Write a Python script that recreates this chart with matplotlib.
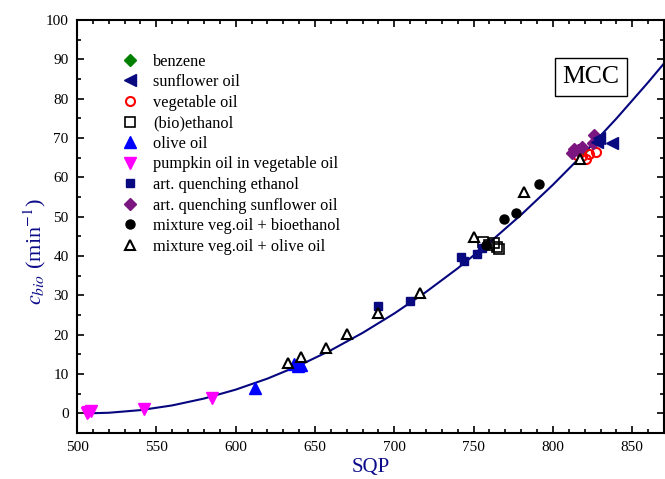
import numpy as np
import matplotlib
matplotlib.use("Agg")
import matplotlib.pyplot as plt
from matplotlib.ticker import MultipleLocator

plt.rcParams['font.family'] = ['Liberation Serif', 'DejaVu Serif']
plt.rcParams['mathtext.fontset'] = 'stix'

# --- data ---
benzene_x = [818]
benzene_y = [67.0]

sunflower_x = [828, 829, 837]
sunflower_y = [69.0, 69.9, 68.8]

vegoil_x = [815, 818, 821, 823, 827]
vegoil_y = [65.6, 65.4, 64.8, 65.9, 66.5]

bioeth_x = [756, 760, 763, 765, 766]
bioeth_y = [43.5, 42.7, 43.2, 42.3, 41.7]

olive_x = [612, 637, 639, 641]
olive_y = [6.5, 12.5, 12.0, 12.3]

pumpkin_x = [506, 507, 509, 542, 585]
pumpkin_y = [0.0, 0.3, 0.6, 1.2, 4.0]

aq_eth_x = [690, 710, 742, 744, 752, 755]
aq_eth_y = [27.3, 28.6, 39.7, 38.8, 40.6, 42.0]

aq_sun_x = [812, 813, 816, 818, 825, 826]
aq_sun_y = [66.2, 67.3, 66.9, 67.7, 68.8, 70.7]

mix_bio_x = [758, 769, 777, 791]
mix_bio_y = [42.7, 49.5, 50.9, 58.4]

mix_olive_x = [633, 641, 657, 670, 690, 716, 750, 782, 817]
mix_olive_y = [12.7, 14.4, 16.6, 20.2, 25.5, 30.7, 44.8, 56.3, 64.8]

# fitted curve, values
fit_x = [506, 520, 540, 560, 580, 600, 620, 640, 660, 680, 700, 720,
         740, 760, 780, 800, 820, 840, 860, 870]
fit_y = [0.0, 0.15, 0.82, 2.02, 3.76, 6.03, 8.83, 12.17, 16.05, 20.46,
         25.40, 30.88, 36.89, 43.44, 50.52, 58.13, 66.28, 74.97, 84.18, 88.99]

navy = '#0c0c8a'

fig = plt.figure(figsize=(6.65, 4.79), dpi=100)
ax = fig.add_axes([0.1158, 0.096, 0.8827, 0.862])

ax.plot(fit_x, fit_y, color='#06067f', lw=1.5, zorder=1)

ax.plot(benzene_x, benzene_y, 'D', color='#008000', ms=6, ls='none', label='benzene', zorder=2)
ax.plot(sunflower_x, sunflower_y, '<', color='#0a0a80', ms=8, ls='none', label='sunflower oil', zorder=4)
ax.plot(vegoil_x, vegoil_y, 'o', mfc='none', mec='red', mew=1.5, ms=6.5, ls='none',
        label='vegetable oil', zorder=3)
ax.plot(bioeth_x, bioeth_y, 's', mfc='none', mec='black', mew=1.2, ms=6.5, ls='none',
        label='(bio)ethanol', zorder=3)
ax.plot(olive_x, olive_y, '^', color='blue', ms=8, ls='none', label='olive oil', zorder=3)
ax.plot(pumpkin_x, pumpkin_y, 'v', color='magenta', ms=8, ls='none',
        label='pumpkin oil in vegetable oil', zorder=3)
ax.plot(aq_eth_x, aq_eth_y, 's', color='#0a0a80', ms=5.5, ls='none',
        label='art. quenching ethanol', zorder=3)
ax.plot(aq_sun_x, aq_sun_y, 'D', color='#7b1680', ms=6, ls='none',
        label='art. quenching sunflower oil', zorder=3)
ax.plot(mix_bio_x, mix_bio_y, 'o', color='black', ms=6.5, ls='none',
        label='mixture veg.oil + bioethanol', zorder=3)
ax.plot(mix_olive_x, mix_olive_y, '^', mfc='white', mec='black', mew=1.5, ms=7, ls='none',
        label='mixture veg.oil + olive oil', zorder=4)

ax.set_xlim(500, 870)
ax.set_ylim(-5, 100)
ax.xaxis.set_major_locator(MultipleLocator(50))
ax.xaxis.set_minor_locator(MultipleLocator(10))
ax.yaxis.set_major_locator(MultipleLocator(10))
ax.yaxis.set_minor_locator(MultipleLocator(5))
ax.tick_params(which='both', direction='in', top=True, right=True,
               labelsize=11, width=1.2)
ax.tick_params(which='major', length=5, pad=6)
ax.tick_params(which='minor', length=3)
for s in ax.spines.values():
    s.set_linewidth(1.5)

ax.set_xlabel('SQP', fontsize=15, color=navy)
ax.set_ylabel(r'$c_{bio}$ (min$^{-1}$)', fontsize=16, color=navy)
ax.xaxis.set_label_coords(0.5, -0.06)
ax.yaxis.set_label_coords(-0.05, 0.44)

ax.legend(loc='upper left', bbox_to_anchor=(0.065, 0.935), frameon=False,
          fontsize=11.8, handlelength=1.0, handletextpad=0.9,
          labelspacing=0.28, borderaxespad=0)

ax.text(0.876, 0.862, 'MCC', fontsize=18.5, ha='center', va='center',
        transform=ax.transAxes,
        bbox=dict(boxstyle='square,pad=0.3', fc='white', ec='black', lw=1))

fig.savefig('out.png', dpi=100)
